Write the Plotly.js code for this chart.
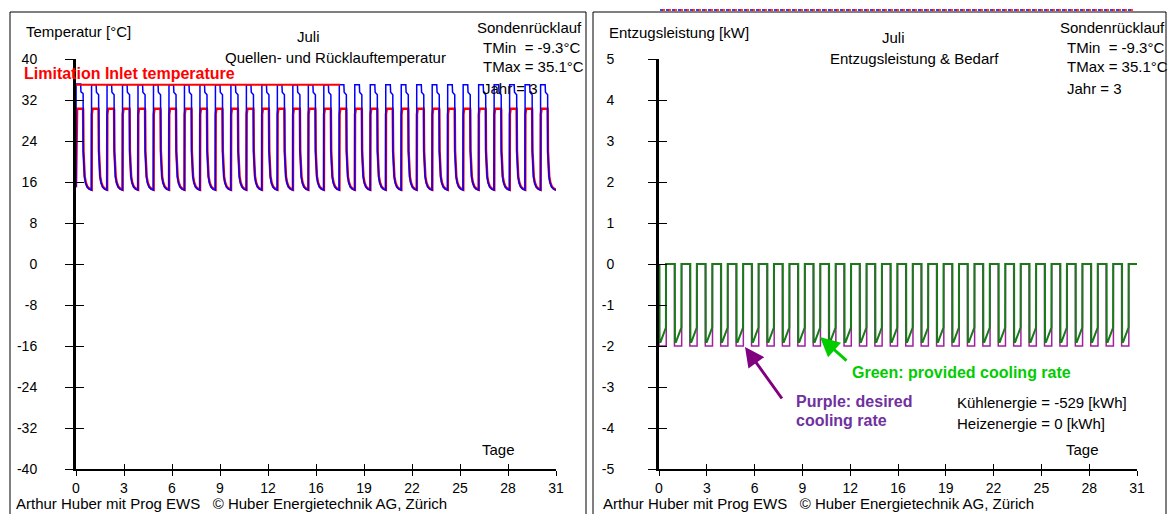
<!DOCTYPE html>
<html>
<head>
<meta charset="utf-8">
<script src="https://cdn.plot.ly/plotly-3.0.1.min.js"></script>
<style>
html,body{margin:0;padding:0;background:#fff;}
#chart{width:1168px;height:514px;}
</style>
</head>
<body>
<div id="chart"></div>
<script>
// ---------- data ----------
const dayStart = [0,1,2,3,4,5,6,7,8,9,10,11,12,13,14,15,16,17,18,19,20,21,22,23,24,25,26,27,28,29,30];
// left chart: source inlet (blue) and return (red) temperatures [°C]
const inletPeak     = [35.1,35,35,35,35,35,35,35,35,35,35,35,35,35,35,35,35,35,35,35,35,35,35,35,35,35,35,35,35,35,35];
const inletShoulder = [33.6,33.5,33.5,33.5,33.5,33.5,33.5,33.5,33.5,33.5,33.5,33.5,33.5,33.5,33.5,33.5,33.5,33.5,33.5,33.5,33.5,33.5,33.5,33.5,33.5,33.5,33.5,33.5,33.5,33.5,33.5];
const returnStart   = [29.2,29.2,29.2,29.2,29.2,29.2,29.2,29.2,29.2,29.2,29.2,29.2,29.2,29.2,29.2,29.2,29.2,29.2,29.2,29.2,29.2,29.2,29.2,29.2,29.2,29.2,29.2,29.2,29.2,29.2,29.2];
const returnPeak    = [30.3,30.3,30.3,30.3,30.3,30.3,30.3,30.3,30.3,30.3,30.3,30.3,30.3,30.3,30.3,30.3,30.3,30.3,30.3,30.3,30.3,30.3,30.3,30.3,30.3,30.3,30.3,30.3,30.3,30.3,30.3];
const startTemp = 15.0;
// off-phase decay (time within day, temperature)
const decayPhase = [0.47, 0.5, 0.55, 0.62, 0.72, 0.85, 1.0];
const decayTemp  = [22.0, 19.0, 17.0, 15.8, 15.0, 14.6, 14.4];
// right chart: cooling rates [kW]
const desiredRate  = [-2,-2,-2,-2,-2,-2,-2,-2,-2,-2,-2,-2,-2,-2,-2,-2,-2,-2,-2,-2,-2,-2,-2,-2,-2,-2,-2,-2,-2,-2,-2];
const providedLow  = [-1.9,-1.9,-1.9,-1.9,-1.9,-1.9,-1.9,-1.9,-1.9,-1.9,-1.9,-1.9,-1.9,-1.9,-1.9,-1.9,-1.9,-1.9,-1.9,-1.9,-1.9,-1.9,-1.9,-1.9,-1.9,-1.9,-1.9,-1.9,-1.9,-1.9,-1.9];
const providedEnd  = [-1.55,-1.55,-1.55,-1.55,-1.55,-1.55,-1.55,-1.55,-1.55,-1.55,-1.55,-1.55,-1.55,-1.55,-1.55,-1.55,-1.55,-1.55,-1.55,-1.55,-1.55,-1.55,-1.55,-1.55,-1.55,-1.55,-1.55,-1.55,-1.55,-1.55,-1.55];
const onPhaseEnd = 0.47;   // cooling runs from day start to this fraction of the day
const limitTemp = 35;
const limitEndDay = 17.05;
// ticks
const xTickVals = [0,3.1,6.2,9.3,12.4,15.5,18.6,21.7,24.8,27.9,31];
const xTickText = ['0','3','6','9','12','16','19','22','25','28','31'];
const tTickVals = [-40,-32,-24,-16,-8,0,8,16,24,32,40];
const tTickText = ['-40','-32','-24','-16','-8','0','8','16','24','32','40'];
const pTickVals = [-5,-4,-3,-2,-1,0,1,2,3,4,5];
const pTickText = ['-5','-4','-3','-2','-1','0','1','2','3','4','5'];

// ---------- build series ----------
const bx=[],by=[],rx=[],ry=[],px_=[],py_=[],gx=[],gy=[];
bx.push(0); by.push(startTemp); rx.push(0); ry.push(startTemp);
dayStart.forEach((d,i)=>{
  bx.push(d+0.005, d+0.30, d+0.32, d+0.45, d+0.46);
  by.push(inletPeak[i], inletPeak[i], inletShoulder[i], inletShoulder[i]-0.3, inletShoulder[i]-0.5);
  rx.push(d+0.02, d+0.035, d+0.07, d+0.45, d+0.46);
  ry.push(returnStart[i], returnStart[i]+0.5, returnPeak[i], returnPeak[i], returnPeak[i]-0.3);
  decayPhase.forEach((f,k)=>{ bx.push(d+f); by.push(decayTemp[k]); rx.push(d+f+0.01); ry.push(decayTemp[k]+0.1); });
  px_.push(d, d+0.002, d+onPhaseEnd, d+onPhaseEnd+0.002, d+1);
  py_.push(0, desiredRate[i], desiredRate[i], 0, 0);
  gx.push(d+0.03, d+0.035, d+0.1, d+onPhaseEnd-0.02, d+onPhaseEnd-0.015, d+1);
  gy.push(0, providedLow[i], providedLow[i], providedEnd[i], 0, 0);
});

const W=1168,H=514;
const X=p=>p/W, Y=p=>1-p/H;

const traces=[
  {x:rx,y:ry,xaxis:'x',yaxis:'y',mode:'lines',line:{color:'#ff0000',width:2.5},hoverinfo:'skip'},
  {x:bx,y:by,xaxis:'x',yaxis:'y',mode:'lines',line:{color:'#0000ff',width:1.5},hoverinfo:'skip'},
  {x:px_,y:py_,xaxis:'x2',yaxis:'y2',mode:'lines',line:{color:'#a020a0',width:1.5},hoverinfo:'skip'},
  {x:gx,y:gy,xaxis:'x2',yaxis:'y2',mode:'lines',line:{color:'#1a7a1a',width:2},hoverinfo:'skip'},
  {x:[-3,limitEndDay],y:[limitTemp,limitTemp],xaxis:'x',yaxis:'y',mode:'lines',line:{color:'#ff0000',width:2},cliponaxis:false,hoverinfo:'skip'}
];

const FAM='Liberation Sans, Arial, sans-serif';
const font={family:FAM,size:15,color:'#000'};
const tickFont={family:FAM,size:14,color:'#000'};
const xL=[76/W,556/W], xR=[659/W,1137/W], yD=[1-469/H,1-59/H];
function xa(dom,anchor){return {domain:dom,anchor:anchor,range:[0,31],tickvals:xTickVals,ticktext:xTickText,ticks:'outside',ticklen:5,tickwidth:1,tickcolor:'#000',showline:true,linewidth:2,linecolor:'#000',showgrid:false,zeroline:false,tickfont:tickFont,fixedrange:true};}
function ya(range,tv,tt,anchor,standoff){return {domain:yD,anchor:anchor,range:range,tickvals:tv,ticktext:tt,ticks:'outside',ticklen:8,tickwidth:1,tickcolor:'#000',showline:true,linewidth:3,linecolor:'#000',showgrid:false,zeroline:false,tickfont:tickFont,ticklabelstandoff:standoff,fixedrange:true};}
function ov(over,anchor,range,tv,len){return {overlaying:over,anchor:anchor,range:range,tickvals:tv,ticks:'inside',ticklen:len,tickwidth:1,tickcolor:'#000',showticklabels:false,showline:false,showgrid:false,zeroline:false,fixedrange:true};}

const ann=[];
function txt(t,x,y,color,xanchor,size){ann.push({text:t,xref:'paper',yref:'paper',x:X(x),y:Y(y),xanchor:xanchor||'left',yanchor:'middle',showarrow:false,font:{family:FAM,size:size||15,color:color||'#000'}});}
// left panel texts
txt('Temperatur [°C]',24,31);
txt('Juli',308,37,null,'center');
txt('Quellen- und Rücklauftemperatur',335,57,null,'center');
txt('Sondenrücklauf',584,27,null,'right');
txt('TMin  = -9.3°C',481,47);
txt('TMax = 35.1°C',481,67);
txt('Jahr = 3',481,88);
txt('<b>Limitation Inlet temperature</b>',22,74,'#ff0000','left',16);
txt('Tage',480,449);
txt('Arthur Huber mit Prog EWS   © Huber Energietechnik AG, Zürich',14,503);
// right panel texts
txt('Entzugsleistung [kW]',607,32);
txt('Juli',893,38,null,'center');
txt('Entzugsleistung & Bedarf',914,58,null,'center');
txt('Sondenrücklauf',1167,27,null,'right');
txt('TMin  = -9.3°C',1065,47);
txt('TMax = 35.1°C',1065,67);
txt('Jahr = 3',1065,88);
txt('<b>Green: provided cooling rate</b>',850,372,'#00cc00','left',16);
txt('<b>Purple: desired</b>',794,401,'#7030a0','left',16);
txt('<b>cooling rate</b>',794,420,'#7030a0','left',16);
txt('Kühlenergie = -529 [kWh]',955,402);
txt('Heizenergie = 0 [kWh]',955,423);
txt('Tage',1064,449);
txt('Arthur Huber mit Prog EWS   © Huber Energietechnik AG, Zürich',601,503);
// arrows
ann.push({xref:'paper',yref:'paper',x:X(820),y:Y(337),ax:28,ay:25,text:'',showarrow:true,arrowhead:2,arrowsize:1.3,arrowwidth:3,arrowcolor:'#00cc00'});
ann.push({xref:'paper',yref:'paper',x:X(745),y:Y(347),ax:38,ay:53,text:'',showarrow:true,arrowhead:2,arrowsize:1.3,arrowwidth:3,arrowcolor:'#800080'});

const shapes=[
  {type:'rect',xref:'paper',yref:'paper',x0:X(10),x1:X(586),y0:-0.1,y1:Y(12),line:{color:'#000',width:1}},
  {type:'rect',xref:'paper',yref:'paper',x0:X(593),x1:X(1166),y0:-0.1,y1:Y(12),line:{color:'#000',width:1}},
  {type:'line',xref:'paper',yref:'paper',x0:X(660),x1:X(1133),y0:Y(10),y1:Y(10),line:{color:'#0000ff',width:1.5,dash:'dot'}},
  {type:'line',xref:'paper',yref:'paper',x0:X(662),x1:X(1133),y0:Y(10),y1:Y(10),line:{color:'#ff0000',width:1.5,dash:'dot'}}
];

const layout={
  width:W,height:H,margin:{l:0,r:0,t:0,b:0},paper_bgcolor:'#fff',plot_bgcolor:'rgba(0,0,0,0)',showlegend:false,font:font,
  xaxis:xa(xL,'y'), yaxis:ya([-40,40],tTickVals,tTickText,'x',25),
  xaxis2:xa(xR,'y2'), yaxis2:ya([-5,5],pTickVals,pTickText,'x2',31),
  xaxis3:ov('x','y',[0,31],xTickVals,5), yaxis3:ov('y','x',[-40,40],tTickVals,8),
  xaxis4:ov('x2','y2',[0,31],xTickVals,5), yaxis4:ov('y2','x2',[-5,5],pTickVals,8),
  annotations:ann, shapes:shapes
};
traces.push({x:[0],y:[0],xaxis:'x3',yaxis:'y3',mode:'markers',marker:{opacity:0},hoverinfo:'skip'});
traces.push({x:[0],y:[0],xaxis:'x4',yaxis:'y4',mode:'markers',marker:{opacity:0},hoverinfo:'skip'});
Plotly.newPlot('chart',traces,layout,{staticPlot:true,displayModeBar:false});
</script>
</body>
</html>
